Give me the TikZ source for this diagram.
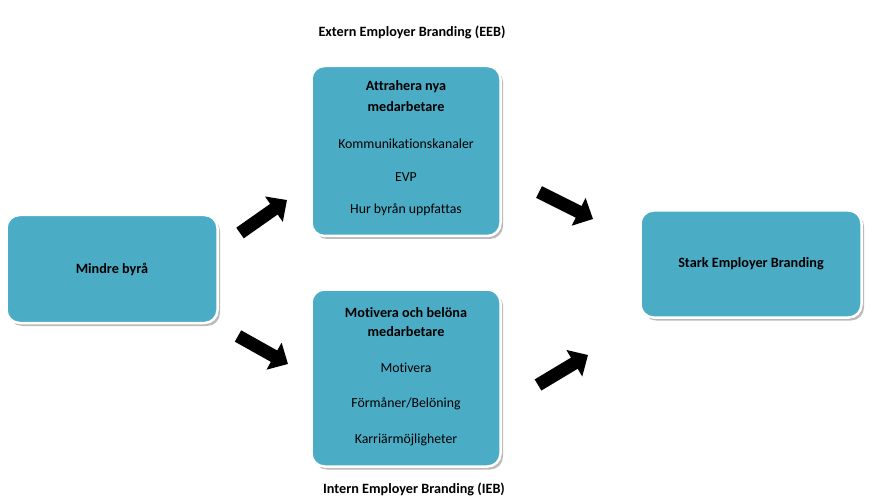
\documentclass[tikz,border=0pt]{standalone}
\usepackage{fontspec}
\setmainfont{Carlito}[Ligatures=NoCommon]
\usetikzlibrary{arrows.meta,shadows}
\definecolor{boxfill}{HTML}{4BACC6}
\tikzset{
  box/.style={draw=white, line width=2.5pt, fill=boxfill, rounded corners=13pt,
    drop shadow={shadow xshift=2.5pt, shadow yshift=-3pt, opacity=0.45, fill=black!60},
    inner sep=0pt},
  blockarrow/.style={line width=13pt, -{Triangle[length=16pt,width=30pt]}},
  lbl/.style={font=\fontsize{13.8}{16}\selectfont, anchor=center},
  blbl/.style={font=\bfseries\fontsize{14.2}{16}\selectfont, anchor=center},
}
\begin{document}
\begin{tikzpicture}[x=1pt,y=-1pt]
\useasboundingbox (0,0) rectangle (874,502);
% boxes
\node[box, minimum width=211pt, minimum height=108pt] (mb) at (112,269) {};
\node[box, minimum width=189pt, minimum height=170pt] (top) at (406,151) {};
\node[box, minimum width=189pt, minimum height=177pt] (bot) at (406,378) {};
\node[box, minimum width=221pt, minimum height=107pt] (sk) at (751,264) {};
% texts
\node[blbl] (mbt) at (mb.center) {Mindre byrå};
\node[blbl] (skt) at (sk.center) {Stark Employer Branding};
\node[blbl] (eeb) at (412,32) {Extern Employer Branding (EEB)};
\node[blbl] (ieb) at (414,489) {Intern Employer Branding (IEB)};
\node[blbl] (t1) at (406,87) {Attrahera nya};
\node[blbl] (t2) at (406,107) {medarbetare};
\node[lbl] (t3) at (406,144) {Kommunikationskanaler};
\node[lbl] (t4) at (406,177) {EVP};
\node[lbl] (t5) at (406,210) {Hur byrån uppfattas};
\node[blbl] (b1) at (406,313) {Motivera och belöna};
\node[blbl] (b2) at (406,332) {medarbetare};
\node[lbl] (b3) at (406,368) {Motivera};
\node[lbl] (b4) at (406,404) {Förmåner/Belöning};
\node[lbl] (b5) at (406,440) {Karriärmöjligheter};
% arrows
\coordinate (a1s) at (240,233);
\coordinate (a1e) at (287,200);
\coordinate (a2s) at (539,192);
\coordinate (a2e) at (593,219);
\coordinate (a3s) at (238,336);
\coordinate (a3e) at (288,364);
\coordinate (a4s) at (538,385);
\coordinate (a4e) at (588,355);
\draw[blockarrow] (a1s) -- (a1e);
\draw[blockarrow] (a2s) -- (a2e);
\draw[blockarrow] (a3s) -- (a3e);
\draw[blockarrow] (a4s) -- (a4e);
\end{tikzpicture}
\end{document}
